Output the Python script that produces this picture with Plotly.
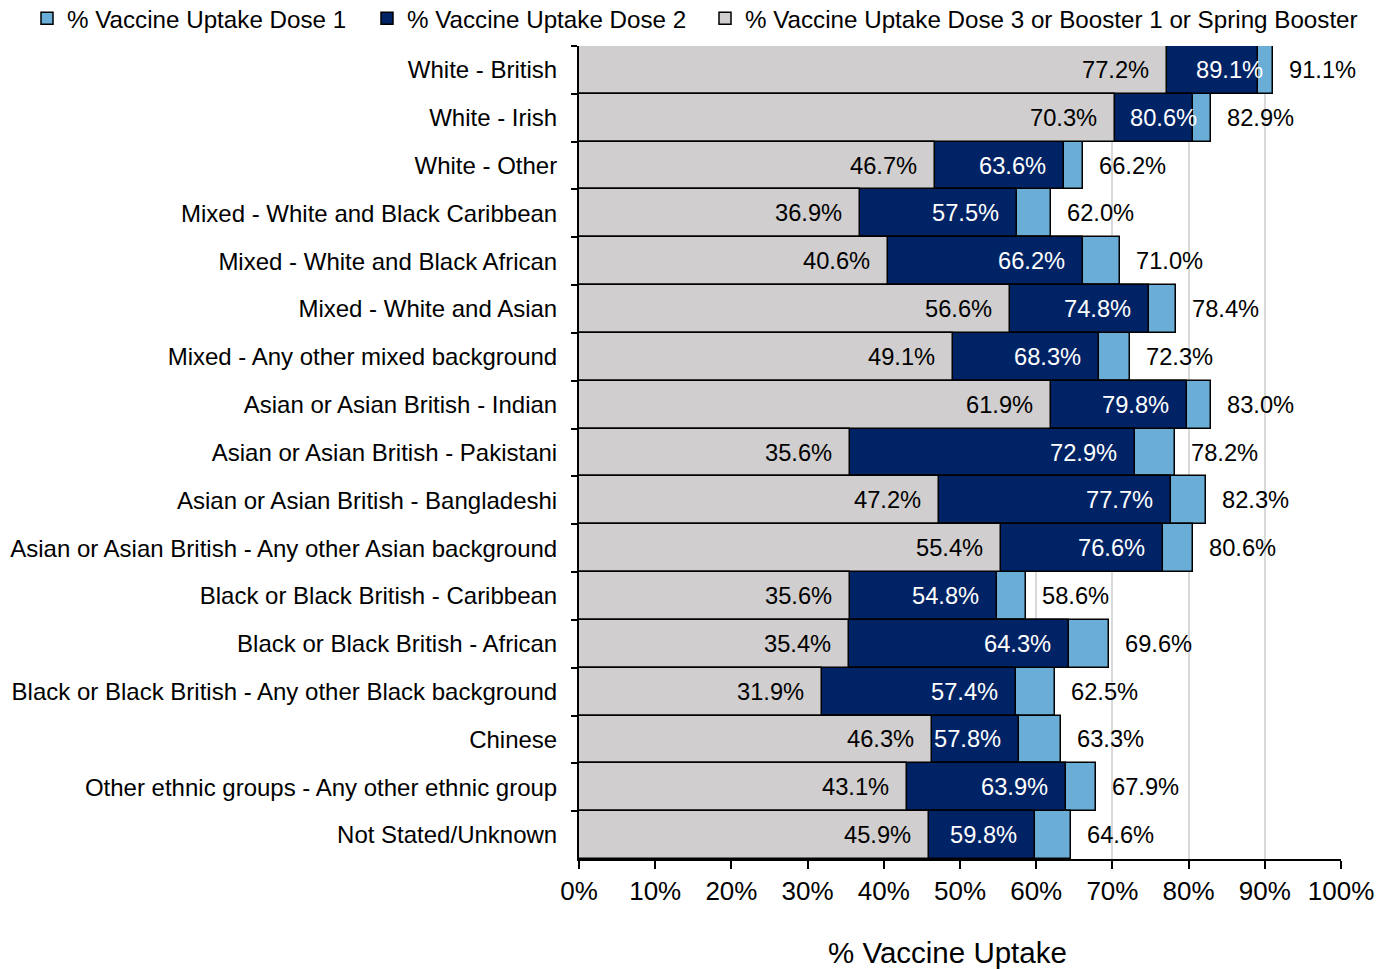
import plotly.graph_objects as go

categories = [
    "White - British", "White - Irish", "White - Other",
    "Mixed - White and Black Caribbean", "Mixed - White and Black African",
    "Mixed - White and Asian", "Mixed - Any other mixed background",
    "Asian or Asian British - Indian", "Asian or Asian British - Pakistani",
    "Asian or Asian British - Bangladeshi",
    "Asian or Asian British - Any other Asian background",
    "Black or Black British - Caribbean", "Black or Black British - African",
    "Black or Black British - Any other Black background", "Chinese",
    "Other ethnic groups - Any other ethnic group", "Not Stated/Unknown",
]
dose1 = [91.1, 82.9, 66.2, 62.0, 71.0, 78.4, 72.3, 83.0, 78.2, 82.3, 80.6, 58.6, 69.6, 62.5, 63.3, 67.9, 64.6]
dose2 = [89.1, 80.6, 63.6, 57.5, 66.2, 74.8, 68.3, 79.8, 72.9, 77.7, 76.6, 54.8, 64.3, 57.4, 57.8, 63.9, 59.8]
dose3 = [77.2, 70.3, 46.7, 36.9, 40.6, 56.6, 49.1, 61.9, 35.6, 47.2, 55.4, 35.6, 35.4, 31.9, 46.3, 43.1, 45.9]
x_ticks = [0, 10, 20, 30, 40, 50, 60, 70, 80, 90, 100]

FONT = "Liberation Sans, Arial, sans-serif"
line = dict(color="black", width=1.5)
W, H = 1393, 969
M_L, M_R, M_T, M_B = 579, 52, 46, 110
PLOT_H = H - M_T - M_B
PLOT_W = W - M_L - M_R

# manual nudges of some Dose 2 labels (as in the original chart)
dose2_label_nudge = {"White - British": 23, "White - Irish": 22}

fig = go.Figure()
fig.add_trace(go.Bar(y=categories, x=dose1, orientation="h", name="% Vaccine Uptake Dose 1",
                     marker=dict(color="#6AAED8", line=line), legend="legend", showlegend=True))
fig.add_trace(go.Bar(y=categories, x=dose2, orientation="h", name="% Vaccine Uptake Dose 2",
                     marker=dict(color="#002366", line=line), legend="legend2", showlegend=True))
fig.add_trace(go.Bar(y=categories, x=dose3, orientation="h",
                     name="% Vaccine Uptake Dose 3 or Booster 1 or Spring Booster",
                     marker=dict(color="#D0CECE", line=line), legend="legend3", showlegend=True))

ann = []
for c, v1, v2, v3 in zip(categories, dose1, dose2, dose3):
    ann.append(dict(x=v1, y=c, text=f"{v1:.1f}%", xanchor="left", xshift=14, showarrow=False,
                    font=dict(size=23.7, color="black", family=FONT)))
    ann.append(dict(x=v2, y=c, text=f"{v2:.1f}%", xanchor="right",
                    xshift=-16 + dose2_label_nudge.get(c, 0), showarrow=False,
                    font=dict(size=23.7, color="white", family=FONT)))
    ann.append(dict(x=v3, y=c, text=f"{v3:.1f}%", xanchor="right", xshift=-16, showarrow=False,
                    font=dict(size=23.7, color="black", family=FONT)))

# x-axis title
ann.append(dict(text="% Vaccine Uptake", xref="paper", yref="paper",
                x=(947 - M_L) / PLOT_W, y=-(952 - (H - M_B)) / PLOT_H,
                xanchor="center", yanchor="middle", showarrow=False,
                font=dict(size=29.5, color="black", family=FONT)))

LEG_Y = 1 + (M_T + 4) / PLOT_H


def leg(px):
    return dict(orientation="h", x=px / W, xanchor="left", xref="container",
                y=LEG_Y, yref="paper", yanchor="top",
                font=dict(size=24.2, family=FONT), itemwidth=30,
                bgcolor="rgba(0,0,0,0)")


fig.update_layout(
    barmode="overlay", bargap=0,
    width=W, height=H, showlegend=True,
    margin=dict(l=M_L, r=M_R, t=M_T, b=M_B, autoexpand=False),
    paper_bgcolor="white", plot_bgcolor="white",
    font=dict(family=FONT, color="black", size=24),
    annotations=ann,
    legend=leg(27),
    legend2=leg(367),
    legend3=leg(705),
    xaxis=dict(range=[0, 100], tickvals=x_ticks, ticktext=[f"{t}%" for t in x_ticks],
               showgrid=True, gridcolor="#D9D9D9", gridwidth=2,
               showline=True, linecolor="black", linewidth=2,
               ticks="outside", ticklen=8, tickcolor="black", tickwidth=2,
               tickfont=dict(size=26, family=FONT),
               zeroline=False, automargin=False),
    yaxis=dict(categoryorder="array", categoryarray=categories, autorange="reversed",
               showline=True, linecolor="black", linewidth=2,
               ticks="outside", ticklen=6, tickcolor="black", tickwidth=2, tickson="boundaries",
               tickfont=dict(size=24, family=FONT), ticklabelstandoff=15,
               showgrid=False, automargin=False),
)

fig.write_html("out.html", config={"displayModeBar": False},
               post_script="document.body.style.margin='0';")
